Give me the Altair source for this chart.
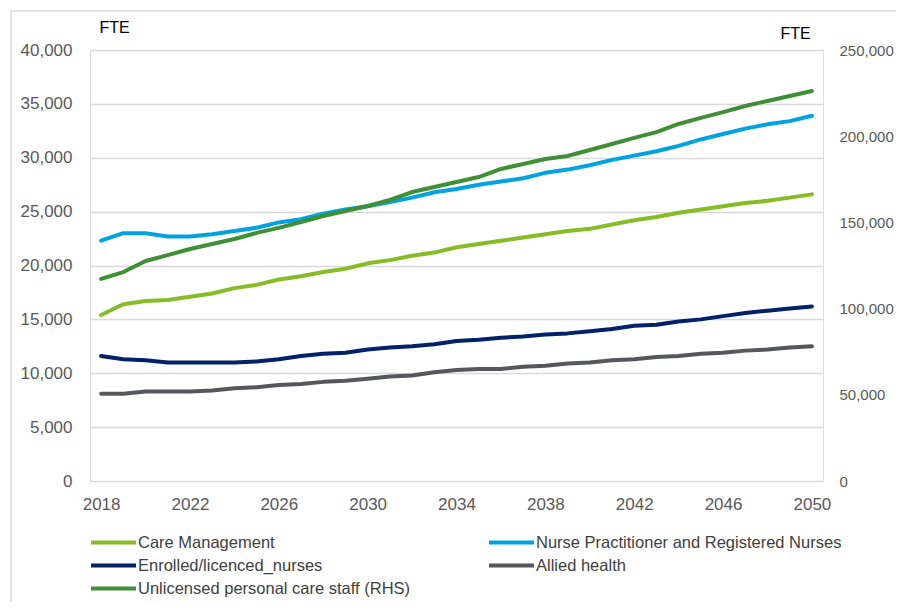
import altair as alt
import pandas as pd

years = list(range(2018, 2051))

care_management = [15400, 16400, 16700, 16800, 17100, 17400, 17900, 18200, 18700, 19000,
                   19400, 19700, 20200, 20500, 20900, 21200, 21700, 22000, 22300, 22600,
                   22900, 23200, 23400, 23800, 24200, 24500, 24900, 25200, 25500, 25800,
                   26000, 26300, 26600]
nurse_prac_rn = [22300, 23000, 23000, 22700, 22700, 22900, 23200, 23500, 24000, 24300,
                 24800, 25200, 25500, 25900, 26300, 26800, 27100, 27500, 27800, 28100,
                 28600, 28900, 29300, 29800, 30200, 30600, 31100, 31700, 32200, 32700,
                 33100, 33400, 33900]
enrolled = [11600, 11300, 11200, 11000, 11000, 11000, 11000, 11100, 11300, 11600,
            11800, 11900, 12200, 12400, 12500, 12700, 13000, 13100, 13300, 13400,
            13600, 13700, 13900, 14100, 14400, 14500, 14800, 15000, 15300, 15600,
            15800, 16000, 16200]
allied = [8100, 8100, 8300, 8300, 8300, 8400, 8600, 8700, 8900, 9000,
          9200, 9300, 9500, 9700, 9800, 10100, 10300, 10400, 10400, 10600,
          10700, 10900, 11000, 11200, 11300, 11500, 11600, 11800, 11900, 12100,
          12200, 12400, 12500]
unlicensed_rhs = [117200, 121200, 127600, 131000, 134600, 137500, 140400, 143900, 146800, 150200,
                  153700, 156600, 159500, 163000, 167600, 170500, 173400, 176300, 181000, 183900,
                  186800, 188500, 192000, 195500, 199000, 202400, 207100, 210600, 214000, 217500,
                  220400, 223300, 226200]

series_names = ["Care Management", "Nurse Practitioner and Registered Nurses",
                "Enrolled/licenced_nurses", "Allied health",
                "Unlicensed personal care staff (RHS)"]
series_colors = ["#86BC25", "#00A3E0", "#012169", "#55575A", "#3F8F35"]
x_ticks = list(range(2018, 2051, 4))

left_rows = []
for name, vals in zip(series_names[:4], [care_management, nurse_prac_rn, enrolled, allied]):
    for y, v in zip(years, vals):
        left_rows.append({"year": y, "value": v, "series": name})
left_df = pd.DataFrame(left_rows)
right_df = pd.DataFrame({"year": years, "value": unlicensed_rhs, "series": series_names[4]})

FONT = "Liberation Sans"
W, H = 733, 431

x_enc = alt.X("year:Q", scale=alt.Scale(domain=[2017.5, 2050.5], nice=False, zero=False),
              axis=alt.Axis(values=x_ticks, format="d", title=None, grid=False, ticks=False,
                            domain=False, labelFontSize=17, labelColor="#595959",
                            labelPadding=15, labelFont=FONT))

# legend line: wide custom path so the entry stays short vertically
color_enc = alt.Color("series:N",
                      scale=alt.Scale(domain=series_names, range=series_colors),
                      legend=alt.Legend(title=None, orient="none", legendX=14, legendY=483,
                                        direction="horizontal", columns=2, columnPadding=70,
                                        rowPadding=5, symbolType="M-3,0H3", symbolSize=225,
                                        symbolStrokeWidth=4, symbolFillColor="transparent",
                                        labelFontSize=16.5,
                                        labelFont=FONT, labelColor="#404040",
                                        labelOffset=15, labelLimit=400, padding=0))

left = alt.Chart(left_df).mark_line(strokeWidth=4, strokeCap="round", strokeJoin="round").encode(
    x=x_enc,
    y=alt.Y("value:Q", scale=alt.Scale(domain=[0, 40000], nice=False),
            axis=alt.Axis(values=list(range(0, 40001, 5000)), format=",.0f", title="FTE",
                          titleAngle=0, titleAlign="left", titleBaseline="middle",
                          titleX=9, titleY=-23, titleFontSize=16, titleFontWeight="normal",
                          titleColor="#000000", titleFont=FONT,
                          grid=True, gridColor="#D9D9D9", gridWidth=1.5,
                          ticks=False, domain=False, labelFontSize=17,
                          labelColor="#595959", labelPadding=18, labelFont=FONT)),
    color=color_enc,
)

right = alt.Chart(right_df).mark_line(strokeWidth=4, strokeCap="round", strokeJoin="round").encode(
    x=x_enc,
    y=alt.Y("value:Q", scale=alt.Scale(domain=[0, 250000], nice=False),
            axis=alt.Axis(orient="right", values=list(range(0, 250001, 50000)), format=",.0f",
                          title="FTE", titleAngle=0, titleAlign="left", titleBaseline="middle",
                          titleX=-43, titleY=-17, titleFontSize=16, titleFontWeight="normal",
                          titleColor="#000000", titleFont=FONT,
                          grid=False, ticks=False, domain=False, labelFontSize=15,
                          labelColor="#595959", labelPadding=16, labelFont=FONT)),
    color=color_enc,
)

frame_data = alt.Data(values=[{"k": 1}])
frame = alt.Chart(frame_data).mark_rect(fill="transparent", stroke="#D9D9D9",
                                          strokeWidth=1.5).encode(
    x=alt.value(-79), x2=alt.value(W + 120), y=alt.value(-39), y2=alt.value(H + 170))

chart = alt.layer(frame, left, right).resolve_scale(
    y="independent"
).properties(
    width=W, height=H,
    padding={"left": 82, "top": 42, "right": 73, "bottom": 121},
    autosize=alt.AutoSizeParams(type="none"),
).configure_view(stroke="transparent", strokeWidth=0).configure_axis(
    domainColor="transparent", tickColor="transparent", grid=False,
    gridColor="transparent", labelBound=False
).configure_axisX(grid=False, domain=False).configure(background="white")

chart.save("out.html", embed_options={"renderer": "svg", "actions": False})
